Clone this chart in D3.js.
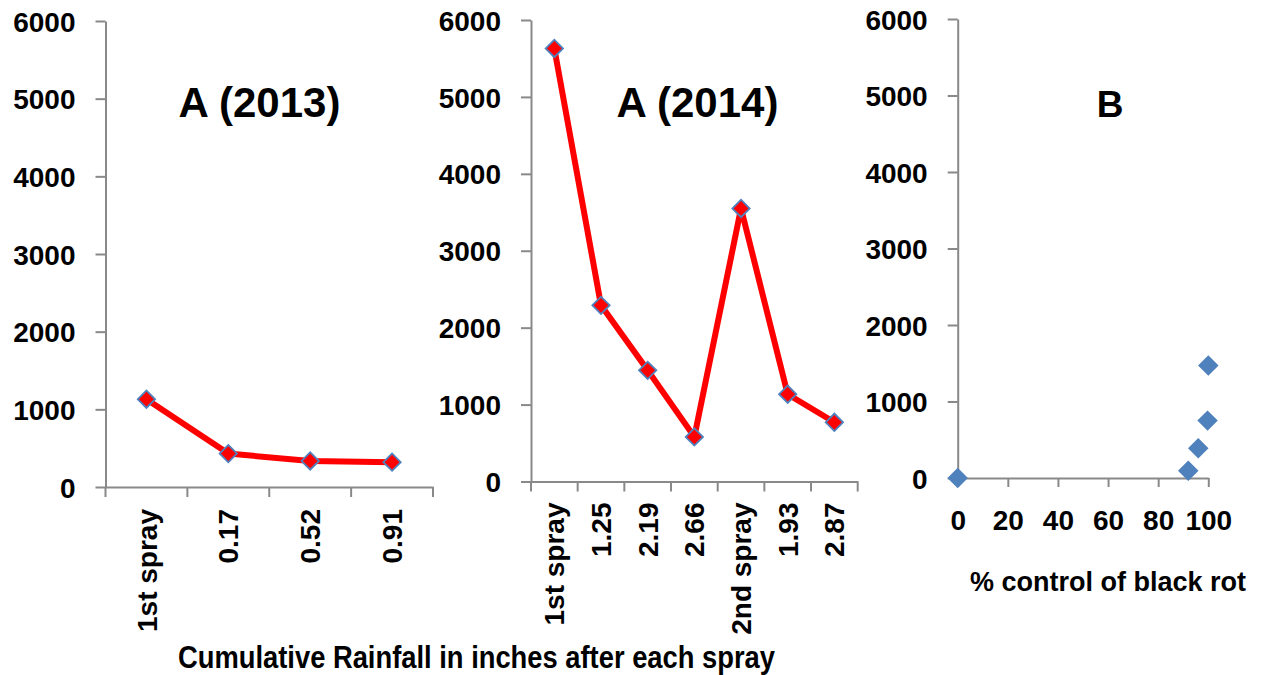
<!DOCTYPE html>
<html>
<head>
<meta charset="utf-8">
<script src="https://cdn.jsdelivr.net/npm/d3@7"></script>
<style>
  html, body { margin: 0; padding: 0; background: #ffffff; }
  svg { display: block; }
  text { font-family: 'Liberation Sans', Arial, sans-serif; font-weight: bold; fill: #000; }
</style>
</head>
<body>
<svg id="chart" width="1261" height="675"></svg>
<script>
// Spore counts after each spray, 2013 season
const categories2013 = ["1st spray", "0.17", "0.52", "0.91"];
const values2013 = [1130, 430, 335, 320];

// Spore counts after each spray, 2014 season
const categories2014 = ["1st spray", "1.25", "2.19", "2.66", "2nd spray", "1.93", "2.87"];
const values2014 = [5630, 2290, 1445, 580, 3550, 1135, 770];

// Spore count against % control of black rot
const controlPct = [0, 92, 96, 99.7, 100];
const sporeCounts = [0, 95, 390, 750, 1470];

const yTicks = [0, 1000, 2000, 3000, 4000, 5000, 6000];
const xTicksB = [0, 20, 40, 60, 80, 100];

const svg = d3.select("#chart");
const AXIS = "#898989";
const LINE_RED = "#ff0000";
const MARK_BLUE = "#4f81bd";

function styleAxis(g) {
  g.selectAll(".domain").attr("stroke", AXIS).attr("stroke-width", 2);
  g.selectAll(".tick line").attr("stroke", AXIS).attr("stroke-width", 2);
  g.selectAll(".tick text").style("font-size", "28px").attr("fill", "#000");
}

function yAxis(x0, yTop, yBot) {
  const y = d3.scaleLinear().domain([0, 6000]).range([yBot, yTop]);
  const g = svg.append("g").attr("transform", `translate(${x0},0)`)
    .call(d3.axisLeft(y).tickValues(yTicks).tickSize(10).tickPadding(20).tickSizeOuter(0).tickFormat(d3.format("d")));
  g.selectAll(".tick text").attr("dy", "0.36em");
  styleAxis(g);
  return y;
}

// Category line panel with Excel-style tick marks between categories
function linePanel(cats, vals, box, title, titleX, titleSize) {
  const y = yAxis(box.x0, box.yTop, box.yBot);
  const x = d3.scaleBand().domain(cats).range([box.x0, box.x1]).paddingInner(0).paddingOuter(0);

  const gx = svg.append("g").attr("transform", `translate(0,${box.yBot})`)
    .call(d3.axisBottom(x).tickSize(0).tickSizeOuter(0));
  gx.selectAll(".tick text")
    .attr("transform", "rotate(-90)")
    .attr("text-anchor", "end")
    .attr("x", -box.labelGap)
    .attr("y", 0)
    .attr("dy", "0.36em");
  styleAxis(gx);

  // tick marks at category boundaries
  const bounds = d3.range(cats.length + 1).map(i => x.range()[0] + i * x.step());
  gx.selectAll(".bound").data(bounds).join("line")
    .attr("class", "bound")
    .attr("x1", d => d).attr("x2", d => d)
    .attr("y1", 0).attr("y2", 10)
    .attr("stroke", AXIS).attr("stroke-width", 2);

  const cx = (c) => x(c) + x.bandwidth() / 2;
  const pts = cats.map((c, i) => [cx(c), y(vals[i])]);

  svg.append("path")
    .attr("d", d3.line()(pts))
    .attr("fill", "none")
    .attr("stroke", LINE_RED)
    .attr("stroke-width", 6)
    .attr("stroke-linejoin", "round");

  svg.append("g").selectAll("path").data(pts).join("path")
    .attr("d", d3.symbol(d3.symbolSquare, 150)())
    .attr("transform", d => `translate(${d[0]},${d[1]}) rotate(45)`)
    .attr("fill", LINE_RED)
    .attr("stroke", MARK_BLUE)
    .attr("stroke-width", 1.8);

  svg.append("text")
    .attr("x", titleX).attr("y", 117)
    .attr("text-anchor", "middle")
    .style("font-size", titleSize + "px")
    .text(title);
}

linePanel(categories2013, values2013, { x0: 105.5, x1: 433, yTop: 21, yBot: 487, labelGap: 22 }, "A (2013)", 259.5, 42);
linePanel(categories2014, values2014, { x0: 531, x1: 857.7, yTop: 20, yBot: 481.5, labelGap: 21 }, "A (2014)", 697.5, 42);

// Scatter panel B
(function () {
  const box = { x0: 957.7, x1: 1208.3, yTop: 19, yBot: 478 };
  const y = yAxis(box.x0, box.yTop, box.yBot);
  const x = d3.scaleLinear().domain([0, 100]).range([box.x0, box.x1]);
  const gx = svg.append("g").attr("transform", `translate(0,${box.yBot})`)
    .call(d3.axisBottom(x).tickValues(xTicksB).tickSize(9).tickPadding(23).tickSizeOuter(0));
  styleAxis(gx);

  svg.append("g").selectAll("path").data(controlPct).join("path")
    .attr("d", d3.symbol(d3.symbolSquare, 210)())
    .attr("transform", (d, i) => `translate(${x(d)},${y(sporeCounts[i])}) rotate(45)`)
    .attr("fill", MARK_BLUE);

  svg.append("text")
    .attr("x", 1110).attr("y", 117)
    .attr("text-anchor", "middle")
    .style("font-size", "37px")
    .text("B");

  svg.append("text")
    .attr("x", 1108).attr("y", 591)
    .attr("text-anchor", "middle")
    .style("font-size", "27px")
    .text("% control of black rot");
})();

svg.append("text")
  .attr("x", 476.5).attr("y", 668)
  .attr("text-anchor", "middle")
  .style("font-family", "'Liberation Sans Narrow', 'Liberation Sans', Arial, sans-serif")
  .style("font-size", "31px")
  .attr("textLength", 597)
  .attr("lengthAdjust", "spacingAndGlyphs")
  .text("Cumulative Rainfall in inches after each spray");
</script>
</body>
</html>
